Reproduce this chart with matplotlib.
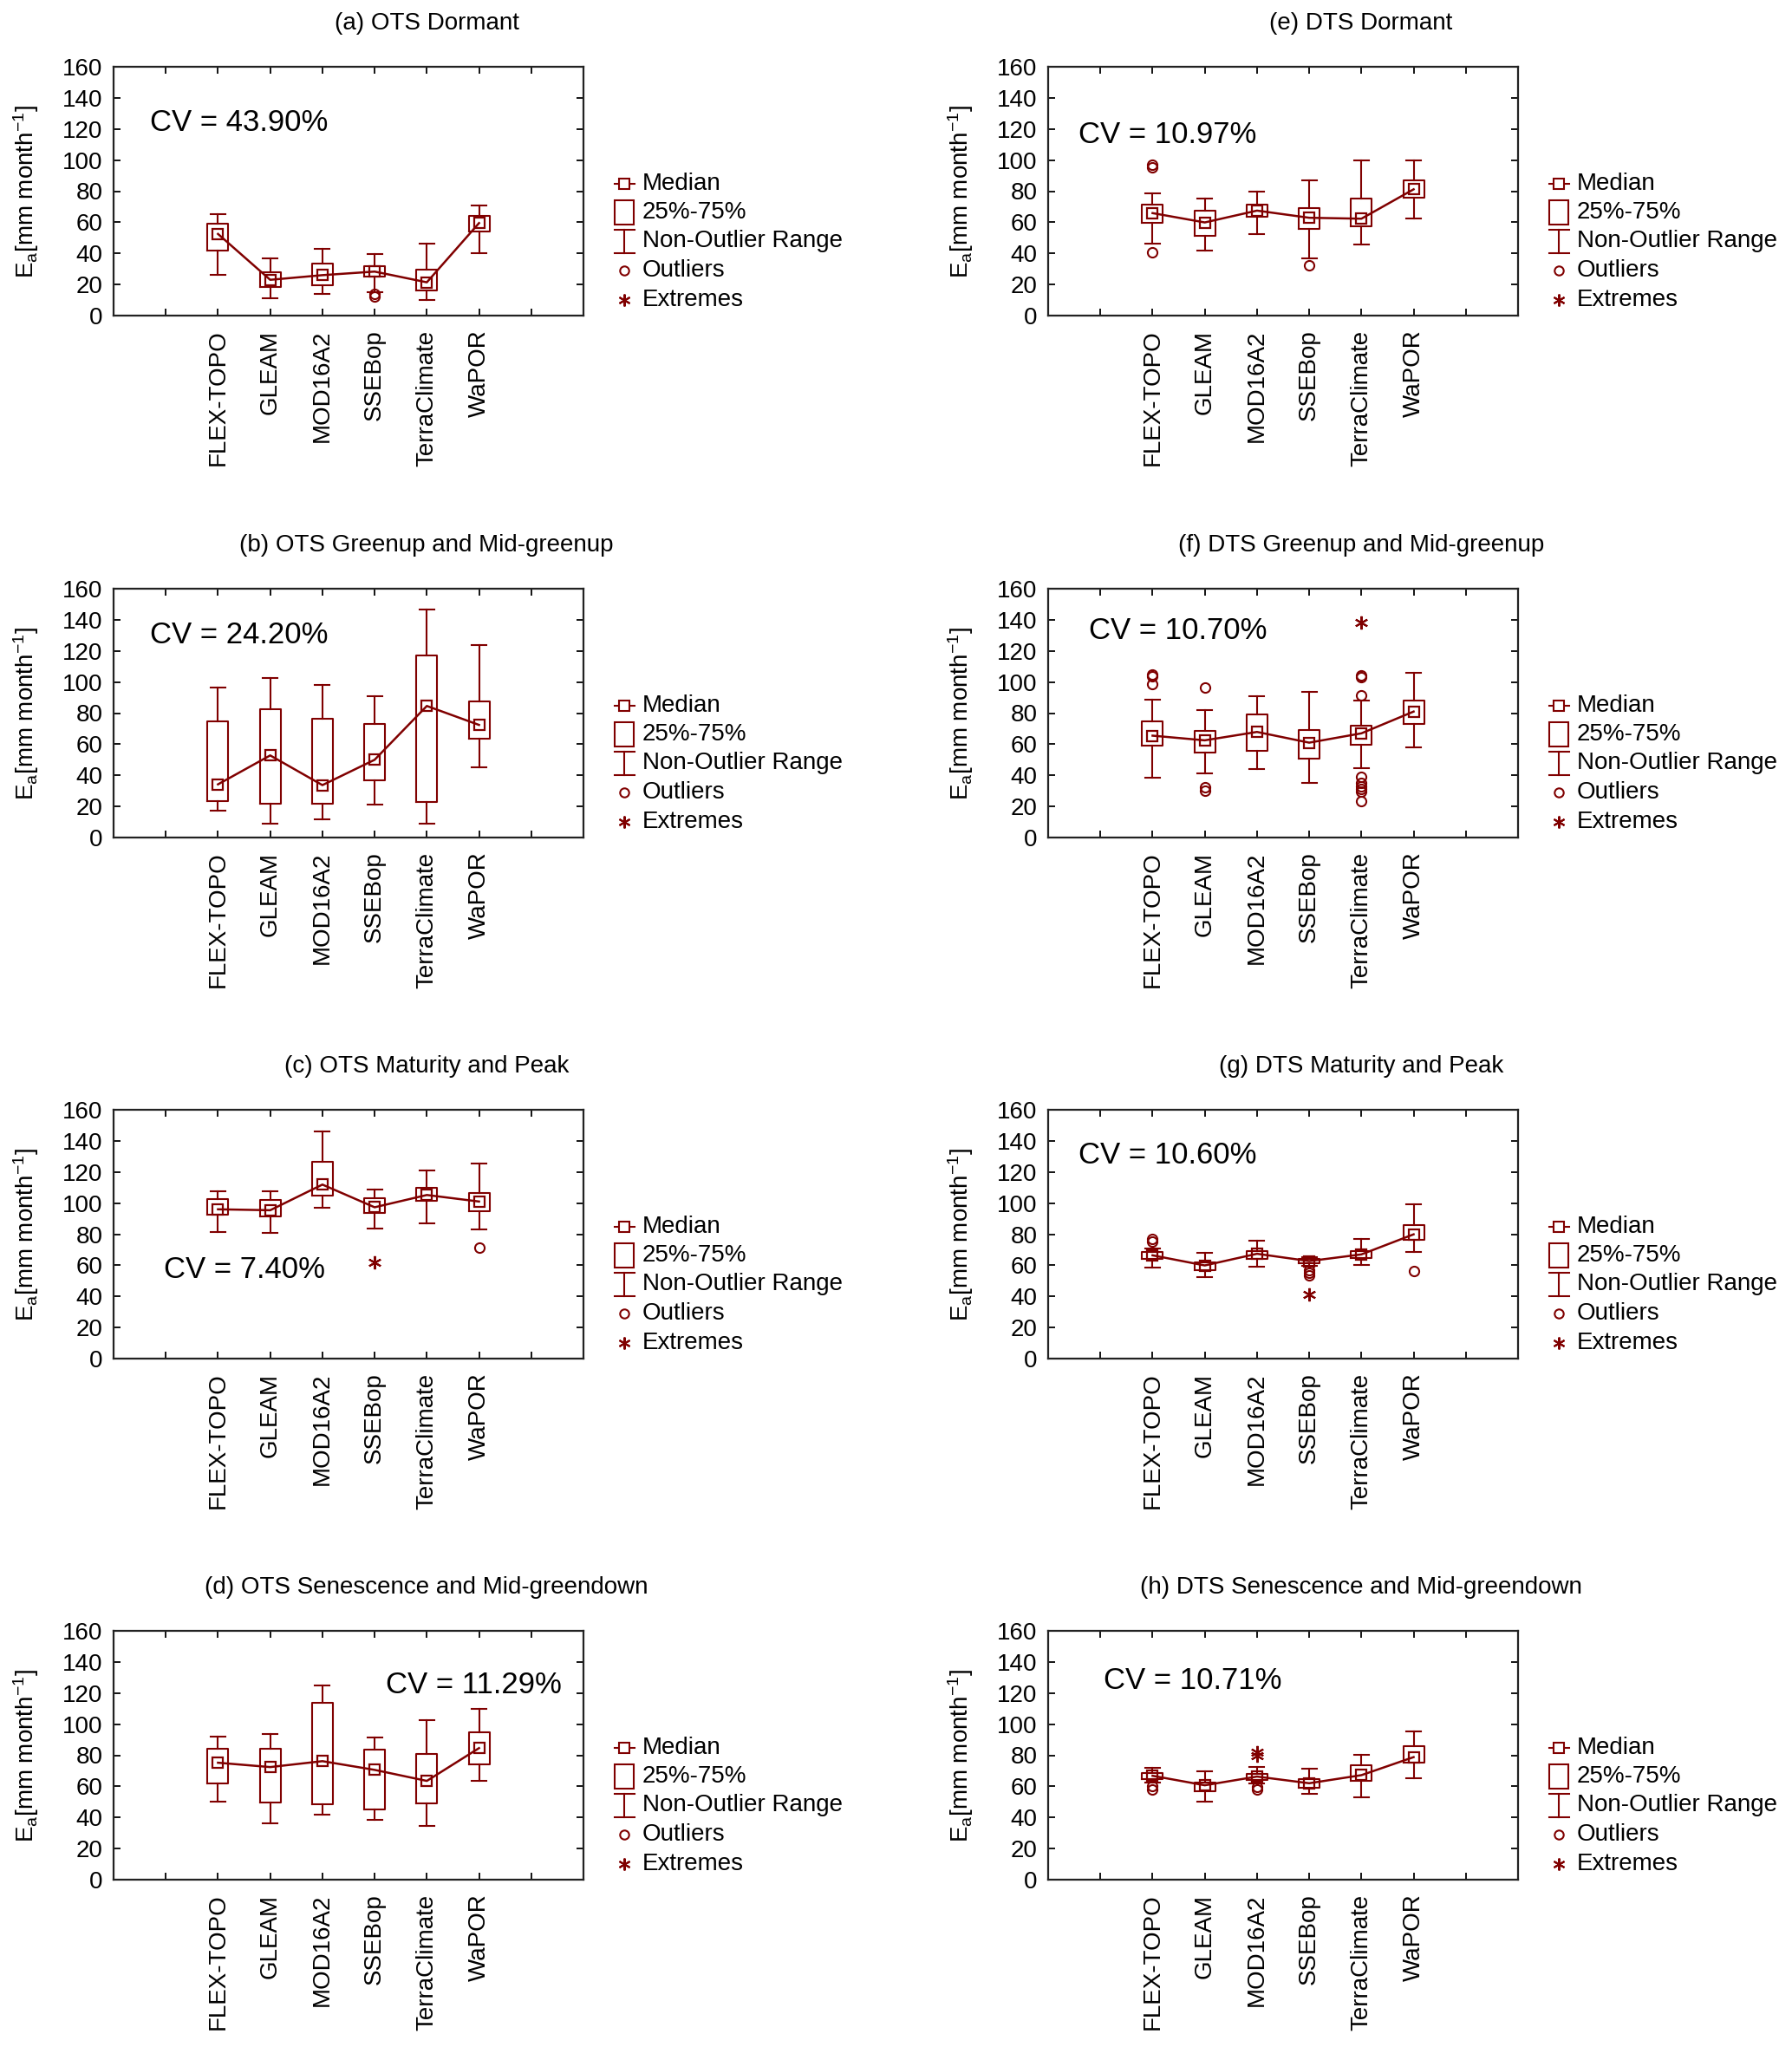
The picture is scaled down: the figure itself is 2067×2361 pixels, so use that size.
import numpy as np
import matplotlib
matplotlib.use("Agg")
import matplotlib.pyplot as plt
from matplotlib.patches import Rectangle

plt.rcParams['font.family'] = ['Liberation Sans', 'DejaVu Sans']
plt.rcParams['mathtext.fontset'] = 'custom'
plt.rcParams['mathtext.rm'] = 'Liberation Sans'
plt.rcParams['mathtext.it'] = 'Liberation Sans:italic'

RED = '#800000'

products = ['FLEX-TOPO', 'GLEAM', 'MOD16A2', 'SSEBop', 'TerraClimate', 'WaPOR']

# (a) OTS Dormant
a_lo = [26, 11.4, 13.8, 15, 10, 40]
a_q1 = [41.7, 18.6, 19.4, 25, 16.2, 54.3]
a_med = [52.5, 23, 26, 28.3, 21.4, 59.5]
a_q3 = [58.9, 28, 33.3, 32, 29.7, 64.3]
a_hi = [65.3, 37, 42.7, 39.5, 46.5, 70.7]
a_out = [[], [], [], [12.5, 14], [], []]
a_ext = [[], [], [], [], [], []]

# (b) OTS Greenup and Mid-greenup
b_lo = [17.4, 8.8, 11.6, 21, 8.8, 45.3]
b_q1 = [23.6, 21.5, 21.5, 37, 22.8, 63.4]
b_med = [34.2, 52.8, 33.7, 50, 84.6, 72.4]
b_q3 = [74.9, 82.7, 76.3, 73, 117.3, 87.6]
b_hi = [96.7, 102.5, 98, 90.8, 146.5, 123.9]
b_out = [[], [], [], [], [], []]
b_ext = [[], [], [], [], [], []]

# (c) OTS Maturity and Peak
c_lo = [81.2, 80.8, 96.9, 83.8, 87, 82.9]
c_q1 = [92.6, 91.7, 104.8, 93.6, 101.4, 95]
c_med = [96, 95.4, 111.9, 97.3, 105.2, 101]
c_q3 = [102.4, 102, 126.5, 102.9, 109.8, 106.7]
c_hi = [107.8, 107.8, 146, 108.7, 120.9, 125.4]
c_out = [[], [], [], [], [], [71.1]]
c_ext = [[], [], [], [62.1], [], []]

# (d) OTS Senescence and Mid-greendown
d_lo = [50.4, 36.4, 42, 38.3, 34.5, 63.5]
d_q1 = [62, 49.5, 48.5, 45.2, 48.9, 74.1]
d_med = [75.2, 72.4, 76.2, 70.6, 63.5, 84.6]
d_q3 = [84.4, 84.4, 113.5, 83.8, 80.7, 94.7]
d_hi = [92, 93.4, 124.7, 91.3, 102.3, 109.8]
d_out = [[], [], [], [], [], []]
d_ext = [[], [], [], [], [], []]

# (e) DTS Dormant
e_lo = [46.3, 41.7, 52.5, 36.9, 45.9, 62.5]
e_q1 = [59.9, 51.5, 63.3, 55.9, 57.3, 75.8]
e_med = [65.9, 59.9, 67.5, 62.9, 62.3, 81.2]
e_q3 = [71.3, 67.3, 71.3, 69.3, 75.2, 86.8]
e_hi = [78.4, 75.2, 80, 87.2, 99.8, 99.8]
e_out = [[96.8, 95.2, 40.5], [], [], [32.5], [], []]
e_ext = [[], [], [], [], [], []]

# (f) DTS Greenup and Mid-greenup
f_lo = [38.5, 41.2, 43.8, 35.2, 44.5, 58]
f_q1 = [58.9, 54.6, 56, 50.5, 59.5, 73]
f_med = [65.5, 62.5, 67.9, 61, 67, 81]
f_q3 = [74.9, 68.3, 79, 69.2, 72, 88.3]
f_hi = [88.9, 82.1, 91.1, 93.6, 88.3, 106.1]
f_out = [[105, 103.5, 98.5], [96.4, 32.5, 30], [], [],
         [104, 103, 91.7, 39, 35, 33, 31, 29.5, 23.5], []]
f_ext = [[], [], [], [], [138.5], []]

# (g) DTS Maturity and Peak
g_lo = [58.5, 52.4, 59, 59.9, 60.3, 68.7]
g_q1 = [64, 57.1, 64.2, 61.2, 64.6, 76.2]
g_med = [66.4, 59.9, 67.4, 62.7, 67, 79.9]
g_q3 = [68.7, 61.8, 68.9, 64.2, 69.3, 85.7]
g_hi = [71, 68.1, 75.8, 65.5, 76.7, 99.2]
g_out = [[76.7, 75.4], [], [], [57.1, 55.2, 53.3], [], [56.1]]
g_ext = [[], [], [], [41.5], [], []]

# (h) DTS Senescence and Mid-greendown
h_lo = [62.5, 50.4, 62, 55.1, 52.7, 65.3]
h_q1 = [64.4, 56.9, 63.9, 59.2, 63.5, 75.1]
h_med = [66.8, 60.7, 66.3, 62, 67.2, 78.8]
h_q3 = [68.7, 62.5, 68.1, 64.4, 73.4, 85.9]
h_hi = [71.9, 69.6, 72.4, 71.3, 80.3, 95.6]
h_out = [[58, 60], [], [59.7, 57.9], [], [], []]
h_ext = [[], [], [82.2, 79.9], [], [], []]

titles = ['(a) OTS Dormant', '(b) OTS Greenup and Mid-greenup',
          '(c) OTS Maturity and Peak', '(d) OTS Senescence and Mid-greendown',
          '(e) DTS Dormant', '(f) DTS Greenup and Mid-greenup',
          '(g) DTS Maturity and Peak', '(h) DTS Senescence and Mid-greendown']
cv_text = ['CV = 43.90%', 'CV = 24.20%', 'CV = 7.40%', 'CV = 11.29%',
           'CV = 10.97%', 'CV = 10.70%', 'CV = 10.60%', 'CV = 10.71%']
cv_x = [0.7, 0.7, 0.96, 5.22, 0.58, 0.78, 0.58, 1.06]
cv_y = [124, 130, 57, 125, 116, 133, 130.6, 128]

panels = [
    (a_lo, a_q1, a_med, a_q3, a_hi, a_out, a_ext),
    (b_lo, b_q1, b_med, b_q3, b_hi, b_out, b_ext),
    (c_lo, c_q1, c_med, c_q3, c_hi, c_out, c_ext),
    (d_lo, d_q1, d_med, d_q3, d_hi, d_out, d_ext),
    (e_lo, e_q1, e_med, e_q3, e_hi, e_out, e_ext),
    (f_lo, f_q1, f_med, f_q3, f_hi, f_out, f_ext),
    (g_lo, g_q1, g_med, g_q3, g_hi, g_out, g_ext),
    (h_lo, h_q1, h_med, h_q3, h_hi, h_out, h_ext),
]

W, H = 2067, 2361
fig = plt.figure(figsize=(W / 100, H / 100), dpi=100)

col_left = [131, 1209]
row_top = [77, 679, 1280, 1881]
ax_w, ax_h = 542, 287

positions = np.arange(2, 8)
FS = 20


def draw_legend(ax):
    tr = ax.transAxes
    xm = 1.087
    ys = [0.531, 0.415, 0.298, 0.181, 0.064]
    labels = ['Median', '25%-75%', 'Non-Outlier Range', 'Outliers', 'Extremes']
    dx = 11.5 / ax_w
    # median
    ax.plot([xm - dx, xm + dx], [ys[0], ys[0]], color=RED, lw=1.5,
            transform=tr, clip_on=False)
    ax.plot([xm], [ys[0]], marker='s', ms=8, mfc='white', mec=RED, mew=1.5,
            transform=tr, clip_on=False)
    # box
    bw, bh = 22 / ax_w, 28 / ax_h
    ax.add_patch(Rectangle((xm - bw / 2, ys[1] - bh / 2), bw, bh, fill=False,
                           ec=RED, lw=1.5, transform=tr, clip_on=False))
    # whisker range
    ih = 27 / ax_h
    ax.plot([xm, xm], [ys[2] - ih / 2, ys[2] + ih / 2], color=RED, lw=1.5,
            transform=tr, clip_on=False)
    for yy in (ys[2] - ih / 2, ys[2] + ih / 2):
        ax.plot([xm - dx, xm + dx], [yy, yy], color=RED, lw=1.5,
                transform=tr, clip_on=False)
    # outliers / extremes
    ax.plot([xm], [ys[3]], marker='o', ms=7.5, mfc='none', mec=RED, mew=1.5,
            transform=tr, clip_on=False)
    ax.plot([xm], [ys[4]], marker=(6, 2, 0), ms=10, color=RED, mew=1.5,
            transform=tr, clip_on=False)
    for yy, lab in zip(ys, labels):
        ax.text(1.1255, yy, lab, transform=tr, fontsize=FS, va='center', ha='left')


for k, (lo, q1, med, q3, hi, out, ext) in enumerate(panels):
    col, row = k // 4, k % 4
    left = col_left[col] / W
    bottom = 1 - (row_top[row] + ax_h) / H
    ax = fig.add_axes([left, bottom, ax_w / W, ax_h / H])

    stats = []
    for i in range(len(products)):
        stats.append(dict(med=med[i], q1=q1[i], q3=q3[i], whislo=lo[i],
                          whishi=hi[i], fliers=out[i]))
    ax.bxp(stats, positions=positions, widths=0.4, capwidths=0.28,
           showfliers=True,
           boxprops=dict(color=RED, lw=1.5),
           whiskerprops=dict(color=RED, lw=1.5),
           capprops=dict(color=RED, lw=1.5),
           medianprops=dict(lw=0),
           flierprops=dict(marker='o', ms=8, mfc='none', mec=RED, mew=1.5))
    ax.plot(positions, med, '-s', color=RED, lw=1.8, ms=9, mfc='none', mew=1.6,
            zorder=4)
    for i, vals in enumerate(ext):
        if vals:
            ax.plot([positions[i]] * len(vals), vals, ls='none', marker=(6, 2, 0),
                    ms=11, color=RED, mew=1.5, zorder=4)

    ax.set_xlim(0, 9)
    ax.set_ylim(0, 160)
    ax.set_yticks(np.arange(0, 161, 20))
    ax.set_xticks(np.arange(1, 9))
    ax.set_xticklabels([''] + products + [''], rotation=90)
    ax.tick_params(direction='in', top=True, right=True, length=6, width=1.3,
                   labelsize=FS)
    ax.tick_params(axis='x', pad=12)
    ax.tick_params(axis='y', pad=9)
    for sp in ax.spines.values():
        sp.set_linewidth(1.6)
        sp.set_color('#222222')
    ax.set_ylabel('E$_\\mathrm{a}$[mm month$^\\mathrm{-1}$]', fontsize=FS)
    ax.yaxis.set_label_coords(-0.155, 0.5)

    ax.text(cv_x[k], cv_y[k], cv_text[k], fontsize=25, va='center', ha='left')
    ax.text(0.666, 1 + 50 / ax_h, titles[k], transform=ax.transAxes,
            fontsize=FS, ha='center', va='center')
    draw_legend(ax)

fig.savefig('out.png', dpi=100)
